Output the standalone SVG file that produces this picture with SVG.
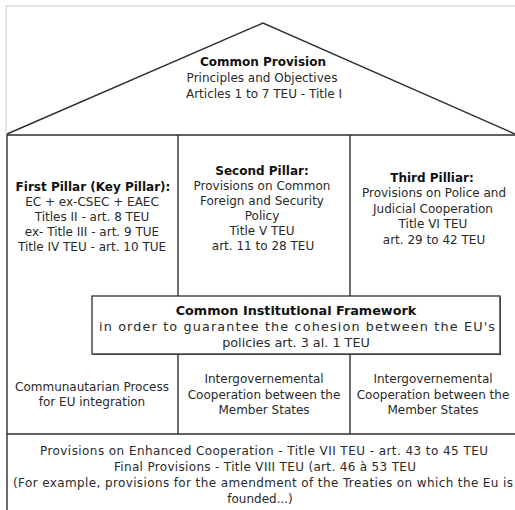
<svg xmlns="http://www.w3.org/2000/svg" width="515" height="510" viewBox="0 0 515 510">
<style>
.t{font-family:"DejaVu Sans",Verdana,sans-serif;font-size:12px;fill:#2a2a2a;text-anchor:middle}
.b{font-weight:bold;fill:#111}
.big{font-size:12.8px}
.ln{stroke:#2e2e2e;stroke-width:1.4;fill:none}
.faint{stroke:#e4e4e4;stroke-width:2;fill:none}
</style>
<rect width="515" height="510" fill="#ffffff"/>
<path class="faint" d="M6,134 V6 H515"/>
<g id="connectors">
<path class="ln" d="M7,510 V135 H515"/>
<path class="ln" d="M178,135 V434 M350,135 V434"/>
<path class="ln" d="M7,434 H515"/>
</g>
<g id="roof">
<polyline class="ln" points="7,134 263,23 515,134"/>
<text class="t b" x="263" y="66">Common Provision</text>
<text class="t" x="262" y="82">Principles and Objectives</text>
<text class="t" x="264" y="98">Articles 1 to 7 TEU - Title I</text>
</g>
<g id="pillar1">
<text class="t b" x="93" y="191">First Pillar (Key Pillar):</text>
<text class="t" x="92" y="206">EC + ex-CSEC + EAEC</text>
<text class="t" x="92" y="221">Titles II - art. 8 TEU</text>
<text class="t" x="92" y="236">ex- Title III - art. 9 TUE</text>
<text class="t" x="92" y="251">Title IV TEU - art. 10 TUE</text>
</g>
<g id="pillar2">
<text class="t b" x="262" y="175">Second Pillar:</text>
<text class="t" x="262" y="190">Provisions on Common</text>
<text class="t" x="262" y="205">Foreign and Security</text>
<text class="t" x="262" y="220">Policy</text>
<text class="t" x="262" y="235">Title V TEU</text>
<text class="t" x="263" y="250">art. 11 to 28 TEU</text>
</g>
<g id="pillar3">
<text class="t b" x="432" y="182">Third Pilliar:</text>
<text class="t" x="434" y="197">Provisions on Police and</text>
<text class="t" x="433" y="213">Judicial Cooperation</text>
<text class="t" x="433" y="228">Title VI TEU</text>
<text class="t" x="434" y="244">art. 29 to 42 TEU</text>
</g>
<g id="framework">
<rect x="93" y="297" width="408" height="58" fill="#555555"/>
<rect x="92" y="296" width="408" height="58" fill="#ffffff" stroke="#2e2e2e" stroke-width="1.3"/>
<text class="t b big" x="296" y="315">Common Institutional Framework</text>
<text class="t big" x="297" y="331" textLength="396" lengthAdjust="spacing">in order to guarantee the cohesion between the EU's</text>
<text class="t big" x="296" y="347">policies art. 3 al. 1 TEU</text>
</g>
<g id="process1">
<text class="t" x="92" y="391">Communautarian Process</text>
<text class="t" x="92" y="406">for EU integration</text>
</g>
<g id="process2">
<text class="t" x="264" y="383">Intergovernemental</text>
<text class="t" x="264" y="399">Cooperation between the</text>
<text class="t" x="264" y="414">Member States</text>
</g>
<g id="process3">
<text class="t" x="433" y="383">Intergovernemental</text>
<text class="t" x="433" y="399">Cooperation between the</text>
<text class="t" x="433" y="414">Member States</text>
</g>
<g id="foundation">
<text class="t" x="264" y="455" textLength="448" lengthAdjust="spacing">Provisions on Enhanced Cooperation  - Title VII TEU - art. 43 to 45 TEU</text>
<text class="t" x="265" y="471" textLength="302" lengthAdjust="spacing">Final Provisions - Title VIII TEU (art. 46 à 53 TEU</text>
<text class="t" x="263" y="487" textLength="500" lengthAdjust="spacing">(For example, provisions for the amendment of the Treaties on which the Eu is</text>
<text class="t" x="260" y="503">founded...)</text>
</g>
</svg>
